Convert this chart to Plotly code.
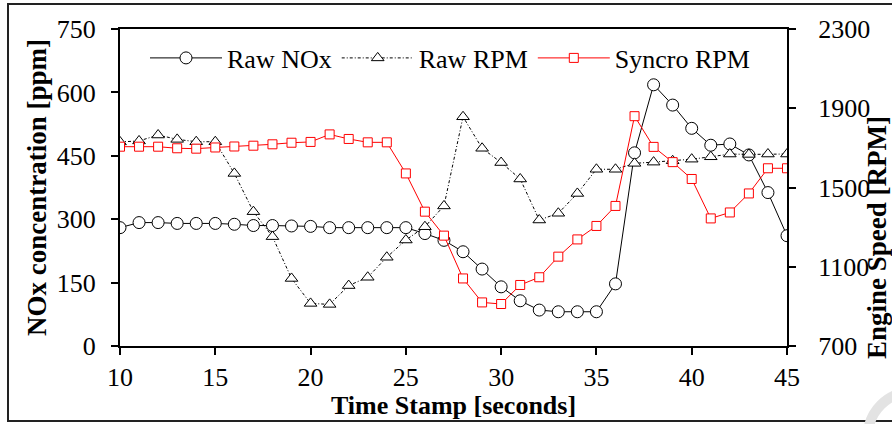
import plotly.graph_objects as go

time_s = list(range(10, 46))
raw_nox = [280, 292, 292, 290, 290, 290, 288, 285, 285, 284, 283, 280, 280, 280, 280, 280,
           266, 250, 223, 182, 140, 107, 85, 81, 81, 81, 147, 457, 618, 570, 515, 475,
           478, 452, 363, 261]
raw_rpm = [1730, 1735, 1765, 1743, 1731, 1731, 1571, 1378, 1252, 1041, 915, 910, 1005, 1047,
           1148, 1235, 1302, 1407, 1857, 1698, 1626, 1543, 1336, 1370, 1470, 1592, 1592,
           1622, 1628, 1635, 1643, 1655, 1669, 1667, 1669, 1669]
syncro_rpm = [1706, 1706, 1706, 1698, 1696, 1702, 1707, 1711, 1718, 1726, 1730, 1768, 1745,
              1728, 1728, 1571, 1378, 1257, 1041, 920, 912, 1008, 1047, 1151, 1238, 1306,
              1407, 1860, 1705, 1628, 1543, 1344, 1374, 1470, 1597, 1597]

x_ticks = [10, 15, 20, 25, 30, 35, 40, 45]
nox_ticks = [0, 150, 300, 450, 600, 750]
rpm_ticks = [700, 1100, 1500, 1900, 2300]

FONT = "Liberation Serif, Times New Roman, serif"

fig = go.Figure()
fig.add_trace(go.Scatter(
    x=time_s, y=raw_nox, name="Raw NOx", mode="lines+markers",
    line=dict(color="black", width=1),
    marker=dict(symbol="circle", size=12, color="white", line=dict(color="black", width=1)),
    yaxis="y"))
fig.add_trace(go.Scatter(
    x=time_s, y=raw_rpm, name="Raw RPM", mode="lines+markers",
    line=dict(color="black", width=1, dash="3px,2px,1px,2px"),
    marker=dict(symbol="triangle-up", size=11, color="white", line=dict(color="black", width=1)),
    yaxis="y2"))
fig.add_trace(go.Scatter(
    x=time_s, y=syncro_rpm, name="Syncro RPM", mode="lines+markers",
    line=dict(color="#ff0000", width=1),
    marker=dict(symbol="square", size=9, color="white", line=dict(color="#ff0000", width=1)),
    yaxis="y2"))

# plot area in pixels: left 120, right 787, top 29, bottom 346
L, R, T, B = 120, 787, 29, 346
W, H = 892, 424
pw, ph = R - L, B - T

def px(xp):
    return (xp - L) / pw

def py(yp):
    return (B - yp) / ph

axis_common = dict(showgrid=False, zeroline=False, showline=True, linecolor="black",
                   linewidth=2, ticks="outside", ticklen=7, tickwidth=2, tickcolor="black",
                   tickfont=dict(size=26, family=FONT, color="black"))

fig.update_layout(
    width=W, height=H,
    margin=dict(l=L, r=W - R, t=T, b=H - B, autoexpand=False),
    paper_bgcolor="white", plot_bgcolor="white",
    font=dict(family=FONT, color="black", size=26),
    showlegend=True,
    legend=dict(orientation="h", x=px(145), y=py(58), xanchor="left", yanchor="middle",
                font=dict(size=26, family=FONT, color="black"), bgcolor="rgba(0,0,0,0)",
                itemwidth=72, tracegroupgap=0),
    xaxis=dict(range=[10, 45], tickvals=x_ticks, mirror=True, ticklabelstandoff=0,
               **axis_common),
    yaxis=dict(range=[0, 750], tickvals=nox_ticks, ticklabelstandoff=10, **axis_common),
    yaxis2=dict(range=[700, 2300], tickvals=rpm_ticks, overlaying="y", side="right",
                ticklabelstandoff=17, **axis_common),
    annotations=[
        dict(text="<b>Time Stamp [seconds]</b>", xref="paper", yref="paper",
             x=px(453), y=py(405), xanchor="center", yanchor="middle", showarrow=False,
             font=dict(size=26, family=FONT, color="black")),
        dict(text="<b>NOx concentration [ppm]</b>", xref="paper", yref="paper",
             x=px(37), y=py(188), xanchor="center", yanchor="middle", showarrow=False,
             textangle=-90, font=dict(size=27, family=FONT, color="black")),
        dict(text="<b>Engine Speed [RPM]</b>", xref="paper", yref="paper",
             x=px(877), y=py(238), xanchor="center", yanchor="middle", showarrow=False,
             textangle=-90, font=dict(size=27, family=FONT, color="black")),
    ],
    shapes=[
        dict(type="rect", xref="paper", yref="paper",
             x0=px(8), x1=px(895), y0=py(421), y1=py(4),
             line=dict(color="#222222", width=2), fillcolor="rgba(0,0,0,0)", layer="below"),
        dict(type="circle", xref="paper", yref="paper",
             x0=px(868), x1=px(956), y0=py(480), y1=py(392),
             line=dict(color="#e3e3e3", width=10), fillcolor="rgba(0,0,0,0)", layer="below"),
    ],
)

fig.write_html("out.html", config={"displayModeBar": False},
               post_script="document.body.style.margin='0';document.body.style.overflow='hidden';")
